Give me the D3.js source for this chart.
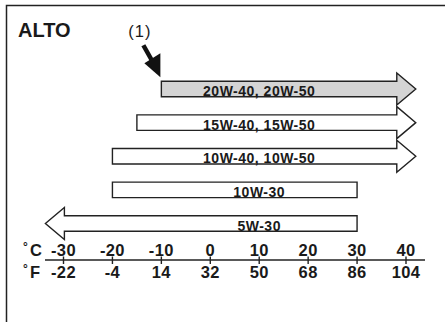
<!DOCTYPE html>
<html>
<head>
<meta charset="utf-8">
<script src="https://cdn.jsdelivr.net/npm/d3@7"></script>
<style>
  html, body { margin: 0; padding: 0; background: #fff; }
  svg text { font-family: "Liberation Sans", Arial, Helvetica, sans-serif; fill: #1a1a1a; }
</style>
</head>
<body>
<div id="chart"></div>
<script>
// oil grades and their usable temperature range (°C), null = open ended (arrow)
const grades = ["20W-40,  20W-50", "15W-40, 15W-50", "10W-40, 10W-50", "10W-30", "5W-30"];
const tempMin = [-10, -15, -20, -20, null];
const tempMax = [null, null, null, 30, 30];
const recommended = "20W-40,  20W-50";   // marked with (1)

// scale tick labels
const celsius = [-30, -20, -10, 0, 10, 20, 30, 40];
const fahrenheit = ["-22", "-4", "14", "32", "50", "68", "86", "104"];

const W = 445, H = 322;
const OPEN_LOW = -33.7, OPEN_HIGH = 42;   // where open arrows end
const barH = 15.5, headH = 32, headL = 19;

const svg = d3.select("#chart").append("svg")
    .attr("width", W).attr("height", H);

// frame (top and left edges only visible)
svg.append("path")
    .attr("d", "M6.5," + H + "V5.5H" + W)
    .attr("fill", "none").attr("stroke", "#222").attr("stroke-width", 1.5);

svg.append("text")
    .attr("x", 18).attr("y", 36.5)
    .attr("font-size", 20).attr("font-weight", "bold")
    .text("ALTO");

const x = d3.scaleLinear().domain([-30, 40]).range([63.5, 406]);
const y = d3.scalePoint().domain(grades).range([89, 223.5]);

// bars
const rows = grades.map((g, i) => ({ label: g, lo: tempMin[i], hi: tempMax[i] }));

function barPath(d) {
  const c = y(d.label), t = c - barH / 2, b = c + barH / 2;
  const ht = c - headH / 2, hb = c + headH / 2;
  const x0 = x(d.lo === null ? OPEN_LOW : d.lo);
  const x1 = x(d.hi === null ? OPEN_HIGH : d.hi);
  const p = d3.path();
  if (d.lo === null) {
    p.moveTo(x0, c); p.lineTo(x0 + headL, ht); p.lineTo(x0 + headL, t);
  } else {
    p.moveTo(x0, t);
  }
  if (d.hi === null) {
    p.lineTo(x1 - headL, t); p.lineTo(x1 - headL, ht); p.lineTo(x1, c);
    p.lineTo(x1 - headL, hb); p.lineTo(x1 - headL, b);
  } else {
    p.lineTo(x1, t); p.lineTo(x1, b);
  }
  if (d.lo === null) {
    p.lineTo(x0 + headL, b); p.lineTo(x0 + headL, hb);
  } else {
    p.lineTo(x0, b);
  }
  p.closePath();
  return p.toString();
}

const bars = svg.selectAll("g.bar").data(rows).enter().append("g").attr("class", "bar");

bars.append("path")
    .attr("d", barPath)
    .attr("fill", d => d.label === recommended ? "#d4d4d4" : "#fff")
    .attr("stroke", "#222").attr("stroke-width", 1.4)
    .attr("stroke-linejoin", "miter");

bars.append("text")
    .attr("x", x(10)).attr("y", d => y(d.label) + barH / 2 - 0.6)
    .attr("text-anchor", "middle")
    .attr("font-size", 14).attr("font-weight", "bold")
    .attr("letter-spacing", 0.5)
    .text(d => d.label);

// (1) marker pointing at recommended bar
const mx = x(tempMin[grades.indexOf(recommended)]), my = y(recommended) - barH / 2;
svg.append("text")
    .attr("x", mx - 21.5).attr("y", my - 44)
    .attr("text-anchor", "middle").attr("font-size", 16.5)
    .attr("letter-spacing", 1)
    .text("(1)");
svg.append("line")
    .attr("x1", mx - 18).attr("y1", my - 36)
    .attr("x2", mx - 9).attr("y2", my - 20)
    .attr("stroke", "#111").attr("stroke-width", 4.5);
svg.append("path")
    .attr("d", `M${mx - 17},${my - 18}L${mx - 1},${my - 28}L${mx - 1},${my - 4}Z`)
    .attr("fill", "#111");

// temperature scale
const axisY = 260;
svg.append("line")
    .attr("x1", 45).attr("x2", 425).attr("y1", axisY).attr("y2", axisY)
    .attr("stroke", "#222").attr("stroke-width", 1.4);

const ticks = svg.selectAll("g.tick").data(celsius).enter().append("g")
    .attr("class", "tick")
    .attr("transform", d => `translate(${x(d)},0)`);
ticks.append("line")
    .attr("y1", axisY - 3.5).attr("y2", axisY + 4)
    .attr("stroke", "#222").attr("stroke-width", 1.4);
ticks.append("text")
    .attr("y", 255.5).attr("text-anchor", "middle")
    .attr("font-size", 16.5).attr("font-weight", "bold")
    .attr("letter-spacing", 0.4)
    .text(d => d < 0 ? "-" + Math.abs(d) : d);
ticks.append("text")
    .attr("y", 277.5).attr("text-anchor", "middle")
    .attr("font-size", 16.5).attr("font-weight", "bold")
    .attr("letter-spacing", 0.4)
    .text((d, i) => fahrenheit[i]);

[["C", 255.5], ["F", 277.5]].forEach(([u, ty]) => {
  svg.append("text").attr("x", 30).attr("y", ty)
      .attr("font-size", 16.5).attr("font-weight", "bold").text(u);
  svg.append("text").attr("x", 23).attr("y", ty - 5)
      .attr("font-size", 12).attr("font-weight", "bold").text("°");
});
</script>
</body>
</html>
